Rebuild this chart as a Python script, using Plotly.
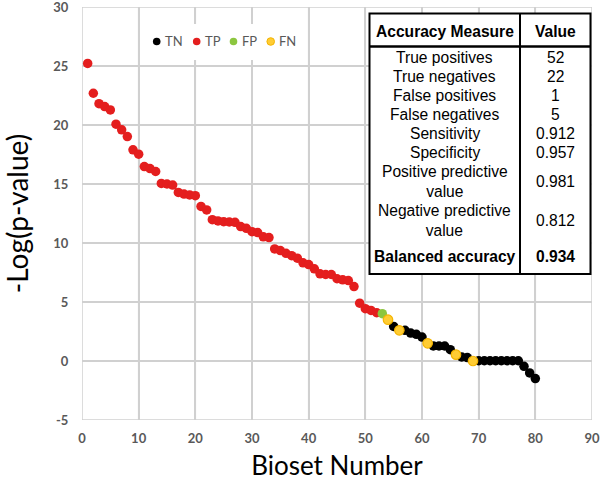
import plotly.graph_objects as go

# ---------------- data ----------------
tp_bioset = list(range(1, 53))
tp_value = [25.22, 22.69, 21.81, 21.56, 21.28, 20.07, 19.59, 19.02, 17.90, 17.53,
            16.48, 16.31, 16.06, 15.05, 15.00, 14.91, 14.29, 14.15, 14.07, 14.01,
            13.10, 12.80, 11.98, 11.87, 11.81, 11.78, 11.75, 11.39, 11.24, 10.96,
            10.88, 10.52, 10.46, 9.50, 9.36, 9.13, 8.93, 8.71, 8.32, 8.17,
            7.81, 7.39, 7.33, 7.33, 6.97, 6.88, 6.82, 6.31, 4.90, 4.43,
            4.29, 4.09]
tn_bioset = [55, 57, 58, 59, 60, 62, 63, 64, 65, 67, 68,
             70, 71, 72, 73, 74, 75, 76, 77, 78, 79, 80]
tn_value = [2.93, 2.60, 2.37, 2.26, 2.03, 1.28, 1.27, 1.27, 0.96, 0.34, 0.29,
            0.02, 0.02, 0.02, 0.02, 0.02, 0.02, 0.02, 0.02, -0.45, -1.01, -1.49]
fp_bioset = [53]
fp_value = [4.01]
fn_bioset = [54, 56, 61, 66, 69]
fn_value = [3.50, 2.60, 1.50, 0.54, 0.00]

x_ticks = [0, 10, 20, 30, 40, 50, 60, 70, 80, 90]
y_ticks = [-5, 0, 5, 10, 15, 20, 25, 30]

legend_names = ["TN", "TP", "FP", "FN"]

table_header = ["Accuracy Measure", "Value"]
measure_labels = ["True positives", "True negatives", "False positives", "False negatives",
                  "Sensitivity", "Specificity", "Positive predictive<br>value",
                  "Negative predictive<br>value", "<b>Balanced accuracy</b>"]
measure_values = ["52", "22", "1", "5", "0.912", "0.957", "0.981", "0.812", "<b>0.934</b>"]

# ---------------- styles ----------------
W, H = 600, 485
ML, MR, MT, MB = 82, 8, 7, 65
PW, PH = W - ML - MR, H - MT - MB

def px(xp):
    return (xp - ML) / PW

def py(yp):
    return (H - MB - yp) / PH

C_TN = "#000000"
C_TP = "#E41E1E"
C_FP = "#8CC63F"
C_FN = "#FFCC33"
C_FN_LINE = "#F4B400"
GRID = "#D0D0D0"
TICK = "#595959"

fig = go.Figure()

# gridlines as a plain line trace on the axes' own scales (drawn first, under the markers)
gx, gy = [], []
for xv in x_ticks:
    gx += [xv, xv, None]
    gy += [y_ticks[0], y_ticks[-1], None]
for yv in y_ticks:
    gx += [x_ticks[0], x_ticks[-1], None]
    gy += [yv, yv, None]
fig.add_trace(go.Scatter(x=gx, y=gy, mode="lines", line=dict(color=GRID, width=1.5),
                         hoverinfo="skip", showlegend=False, cliponaxis=False,
                         connectgaps=False))

fig.add_trace(go.Scatter(x=tn_bioset, y=tn_value, mode="markers", name="TN",
                         marker=dict(size=9.5, color=C_TN, line=dict(width=0)), showlegend=False))
fig.add_trace(go.Scatter(x=tp_bioset, y=tp_value, mode="markers", name="TP",
                         marker=dict(size=9.5, color=C_TP, line=dict(width=0)), showlegend=False))
fig.add_trace(go.Scatter(x=fp_bioset, y=fp_value, mode="markers", name="FP",
                         marker=dict(size=9.5, color=C_FP, line=dict(width=0)), showlegend=False))
fig.add_trace(go.Scatter(x=fn_bioset, y=fn_value, mode="markers", name="FN",
                         marker=dict(size=9.5, color=C_FN, line=dict(width=1.2, color=C_FN_LINE)),
                         showlegend=False))

shapes = []
annotations = []

# legend box (white) and entries
shapes.append(dict(type="rect", xref="paper", yref="paper", layer="above",
                   x0=px(140), x1=px(305), y0=py(60), y1=py(24),
                   fillcolor="white", line=dict(width=0)))
leg_colors = [C_TN, C_TP, C_FP, C_FN]
leg_marker_x = [156.7, 196.7, 233.5, 270.7]
leg_y = 41.5
for name, col, mx in zip(legend_names, leg_colors, leg_marker_x):
    shapes.append(dict(type="circle", xref="paper", yref="paper", layer="above",
                       xsizemode="pixel", ysizemode="pixel",
                       xanchor=px(mx), yanchor=py(leg_y),
                       x0=-3.8, x1=3.8, y0=-3.8, y1=3.8,
                       fillcolor=col,
                       line=dict(width=1 if name == "FN" else 0, color=C_FN_LINE if name == "FN" else col)))
    annotations.append(dict(xref="paper", yref="paper", x=px(mx + 6), y=py(leg_y),
                            xanchor="left", yanchor="middle", showarrow=False,
                            text=name, font=dict(family="Lato", size=13, color=TICK)))

# table
TL, TR, TT, TB = 369.5, 590.5, 13.5, 274
TDIV = 520
THEAD = 46.5
shapes.append(dict(type="rect", xref="paper", yref="paper", layer="above",
                   x0=px(TL), x1=px(TR), y0=py(TB), y1=py(TT),
                   fillcolor="white", line=dict(width=2, color="black")))
shapes.append(dict(type="line", xref="paper", yref="paper", layer="above",
                   x0=px(TDIV), x1=px(TDIV), y0=py(TB), y1=py(TT),
                   line=dict(width=2, color="black")))
shapes.append(dict(type="line", xref="paper", yref="paper", layer="above",
                   x0=px(TL), x1=px(TR), y0=py(THEAD), y1=py(THEAD),
                   line=dict(width=2.5, color="black")))

col1_x = (TL + TDIV) / 2
col2_x = (TDIV + TR) / 2
tfont = dict(family="Liberation Sans, Arial", size=15.6, color="black")
annotations.append(dict(xref="paper", yref="paper", x=px(col1_x), y=py(31), showarrow=False,
                        xanchor="center", yanchor="middle", text="<b>" + table_header[0] + "</b>", font=tfont))
annotations.append(dict(xref="paper", yref="paper", x=px(col2_x), y=py(31), showarrow=False,
                        xanchor="center", yanchor="middle", text="<b>" + table_header[1] + "</b>", font=tfont))
row_y = [57.3, 76.3, 95.3, 114.3, 133.3, 152.3, 181.7, 220.3, 256.7]
for lab, val, ry in zip(measure_labels, measure_values, row_y):
    annotations.append(dict(xref="paper", yref="paper", x=px(col1_x), y=py(ry), showarrow=False,
                            xanchor="center", yanchor="middle", align="center", text=lab, font=tfont))
    annotations.append(dict(xref="paper", yref="paper", x=px(col2_x), y=py(ry), showarrow=False,
                            xanchor="center", yanchor="middle", text=val, font=tfont))

fig.update_layout(
    template="none",
    width=W, height=H,
    margin=dict(l=ML, r=MR, t=MT, b=MB),
    paper_bgcolor="white", plot_bgcolor="white",
    showlegend=False,
    shapes=shapes, annotations=annotations,
    xaxis=dict(range=[0, 90], tickmode="array", tickvals=x_ticks, ticktext=[str(v) for v in x_ticks],
               showgrid=True, gridcolor=GRID, gridwidth=1.5, zeroline=False, showline=False,
               ticks="outside", ticklen=6, tickcolor="rgba(0,0,0,0)",
               tickfont=dict(family="Lato", size=13, color=TICK, weight="bold"),
               ticklabeloverflow="allow",
               title=dict(text="Bioset Number", font=dict(family="Lato", size=26, color="black"),
                          standoff=12),
               automargin=False),
    yaxis=dict(range=[-5, 30], tickmode="array", tickvals=y_ticks, ticktext=[str(v) for v in y_ticks],
               showgrid=True, gridcolor=GRID, gridwidth=1.5, zeroline=False, showline=False,
               ticks="outside", ticklen=10, tickcolor="rgba(0,0,0,0)",
               tickfont=dict(family="Lato", size=13, color=TICK, weight="bold"),
               ticklabeloverflow="allow",
               title=dict(text="-Log(p-value)", font=dict(family="Lato", size=28, color="black"),
                          standoff=24),
               automargin=False),
)

fig.write_html("out.html", config={"displayModeBar": False},
               post_script="document.body.style.margin='0';document.body.style.padding='0';")
